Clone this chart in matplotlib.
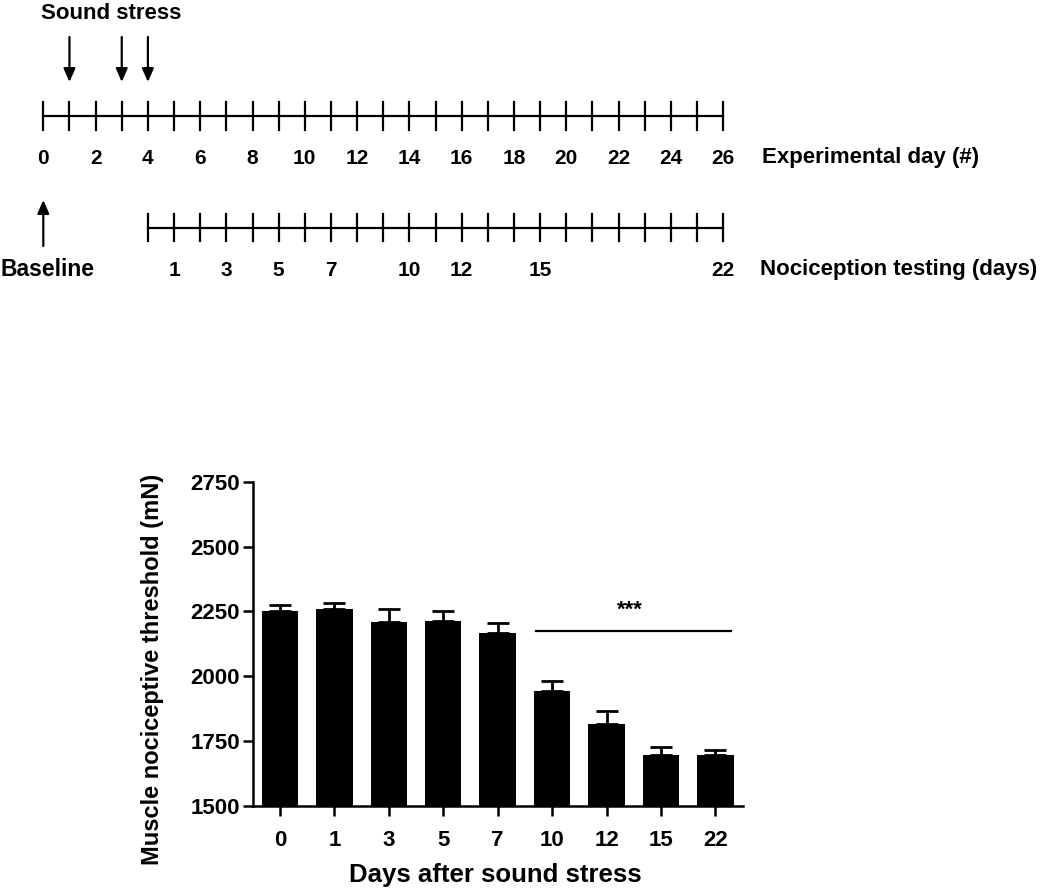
import matplotlib
matplotlib.use("Agg")
import matplotlib.pyplot as plt
import numpy as np

# ---------------- data ----------------
exp_days = list(range(0, 27))                 # experimental day ticks
exp_day_labels = list(range(0, 27, 2))        # labelled experimental days
stress_days = [1, 3, 4]                       # sound stress sessions
baseline_day = 0
testing_offset = 4                            # testing day 0 == experimental day 4
testing_ticks = list(range(0, 23))            # nociception testing ticks
testing_labels = [1, 3, 5, 7, 10, 12, 15, 22]

categories = ['0', '1', '3', '5', '7', '10', '12', '15', '22']
means = [2253, 2261, 2209, 2214, 2166, 1943, 1816, 1697, 1697]
sems = [23, 23, 49, 38, 41, 38, 50, 30, 18]
sig_start, sig_end = 4.71, 8.28
sig_level = 2176
sig_text = '***'

plt.rcParams['font.family'] = ['Liberation Sans', 'DejaVu Sans']

W, H = 1050, 891
fig = plt.figure(figsize=(W / 100, H / 100), dpi=100)

# ---------------- top timeline (x in days, y in pixels from top) ----------------
px0, pxday = 43.3, 26.15
axt = fig.add_axes([0, 0, 1, 1])
axt.set_xlim(-px0 / pxday, (W - px0) / pxday)
axt.set_ylim(H, 0)
axt.axis('off')

def px2day(p):
    return (p - px0) / pxday

lw = 1.6
y1 = 115.5
axt.plot([exp_days[0], exp_days[-1]], [y1, y1], color='black', lw=lw)
for d in exp_days:
    axt.plot([d, d], [102, 130], color='black', lw=lw)
for d in exp_day_labels:
    axt.text(d, 158, str(d), ha='center', va='center', fontsize=15, fontweight='bold')
axt.text(px2day(762), 158, 'Experimental day (#)', ha='left', va='center', fontsize=16,
         fontweight='bold')

y2 = 228
t_exp = [testing_offset + t for t in testing_ticks]
axt.plot([t_exp[0], t_exp[-1]], [y2, y2], color='black', lw=lw)
for d in t_exp:
    axt.plot([d, d], [214, 241], color='black', lw=lw)
for t in testing_labels:
    axt.text(testing_offset + t, 270, str(t), ha='center', va='center', fontsize=15,
             fontweight='bold')
axt.text(px2day(760), 270, 'Nociception testing (days)', ha='left', va='center',
         fontsize=16, fontweight='bold')

for d in stress_days:
    axt.annotate('', xy=(d, 82), xytext=(d, 37),
                 arrowprops=dict(arrowstyle='-|>,head_length=0.8,head_width=0.35',
                                 color='black', lw=1.6, shrinkA=0, shrinkB=0))
axt.text(px2day(41), 3, 'Sound stress', ha='left', va='top', fontsize=16,
         fontweight='bold')
axt.annotate('', xy=(baseline_day, 200), xytext=(baseline_day, 246),
             arrowprops=dict(arrowstyle='-|>,head_length=0.8,head_width=0.35',
                             color='black', lw=1.6, shrinkA=0, shrinkB=0))
axt.text(px2day(0), 270, 'Baseline', ha='left', va='center', fontsize=16.5,
         fontweight='bold')

# ---------------- bar chart ----------------
left, right, top, bottom = 252.7, 742.7, 481.7, 806.0
ax = fig.add_axes([left / W, (H - bottom) / H, (right - left) / W, (bottom - top) / H])
x = np.arange(len(categories))
ax.bar(x, means, width=0.67, color='black', zorder=2)
ax.errorbar(x, means, yerr=[np.zeros(len(sems)), sems], fmt='none', ecolor='black',
            elinewidth=2, capsize=8, capthick=2, zorder=1)
ax.set_xlim(-0.5, 8.5)
ax.set_ylim(1500, 2750)
ax.set_yticks([1500, 1750, 2000, 2250, 2500, 2750])
ax.set_xticks(x)
ax.set_xticklabels(categories)
for s in ['top', 'right']:
    ax.spines[s].set_visible(False)
for s in ['left', 'bottom']:
    ax.spines[s].set_linewidth(1.8)
ax.tick_params(axis='both', length=7, width=1.8, labelsize=16)
ax.tick_params(axis='x', pad=10)
ax.tick_params(axis='y', pad=2)
for lab in ax.get_xticklabels() + ax.get_yticklabels():
    lab.set_fontweight('bold')

ax.plot([sig_start, sig_end], [sig_level, sig_level], color='black', lw=1.6, clip_on=False)
ax.text((sig_start + sig_end) / 2 - 0.07, sig_level + 80, sig_text, ha='center', va='center',
        fontsize=16, fontweight='bold')

fig.text(495 / W, 1 - 875 / H, 'Days after sound stress', ha='center', va='center',
         fontsize=18.5, fontweight='bold')
fig.text(152 / W, 1 - 669 / H, 'Muscle nociceptive threshold (mN)', ha='center',
         va='center', rotation=90, fontsize=17, fontweight='bold')

fig.savefig('out.png', dpi=100)
